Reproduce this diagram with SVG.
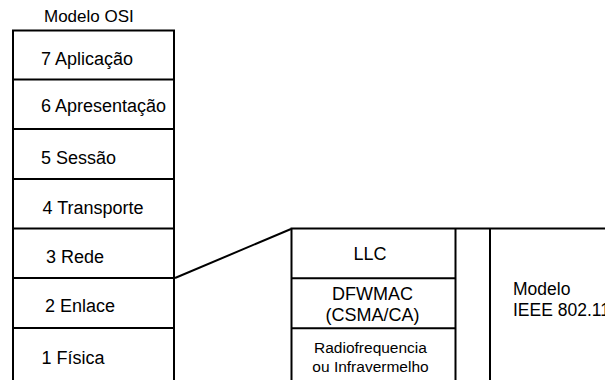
<svg xmlns="http://www.w3.org/2000/svg" width="605" height="380" viewBox="0 0 605 380">
<style>
.ln{stroke:#000;stroke-width:2;fill:none}
.t{font-family:"Liberation Sans",Arial,sans-serif;fill:#000}
.l{font-size:18px}
.h{font-size:17px}
.m{font-size:17.5px}
.s{font-size:15.5px}
.c{text-anchor:middle}
</style>
<rect width="605" height="380" fill="#fff"/>
<text class="t h" x="44" y="21.5">Modelo OSI</text>
<g id="osi">
<path class="ln" d="M13,385 V30.5 H174 V385"/>
</g>
<g id="l7"><path class="ln" d="M13,79.5 H174"/><text class="t l" x="41" y="65">7 Aplicação</text></g>
<g id="l6"><path class="ln" d="M13,129 H174"/><text class="t l" x="41" y="111.5">6 Apresentação</text></g>
<g id="l5"><path class="ln" d="M13,179 H174"/><text class="t l" x="41" y="164">5 Sessão</text></g>
<g id="l4"><path class="ln" d="M13,228.5 H174"/><text class="t l" x="42.5" y="213.5">4 Transporte</text></g>
<g id="l3"><path class="ln" d="M13,278 H174"/><text class="t l" x="46" y="262.5">3 Rede</text></g>
<g id="l2"><path class="ln" d="M13,328 H174"/><text class="t l" x="45" y="311.5">2 Enlace</text></g>
<g id="l1"><text class="t l" x="41.5" y="364">1 Física</text></g>
<g id="connectors"><path class="ln" d="M175,278 L291,229"/></g>
<g id="ieee">
<path class="ln" d="M291.5,385 V228.5 H606 M455.5,228.5 V385 M490,228.5 V385"/>
<text class="t m" x="513" y="295">Modelo</text>
<text class="t m" x="513" y="315.5">IEEE 802.11</text>
</g>
<g id="llc"><text class="t l c" x="370" y="259.5">LLC</text></g>
<g id="mac"><path class="ln" d="M291.5,278.3 H455.5 M291.5,328.3 H455.5"/>
<text class="t l c" x="372.5" y="300">DFWMAC</text>
<text class="t l c" x="372.5" y="320.5">(CSMA/CA)</text></g>
<g id="phy">
<text class="t s c" x="370.5" y="352.5">Radiofrequencia</text>
<text class="t s c" x="370.5" y="371.5">ou Infravermelho</text></g>
</svg>
